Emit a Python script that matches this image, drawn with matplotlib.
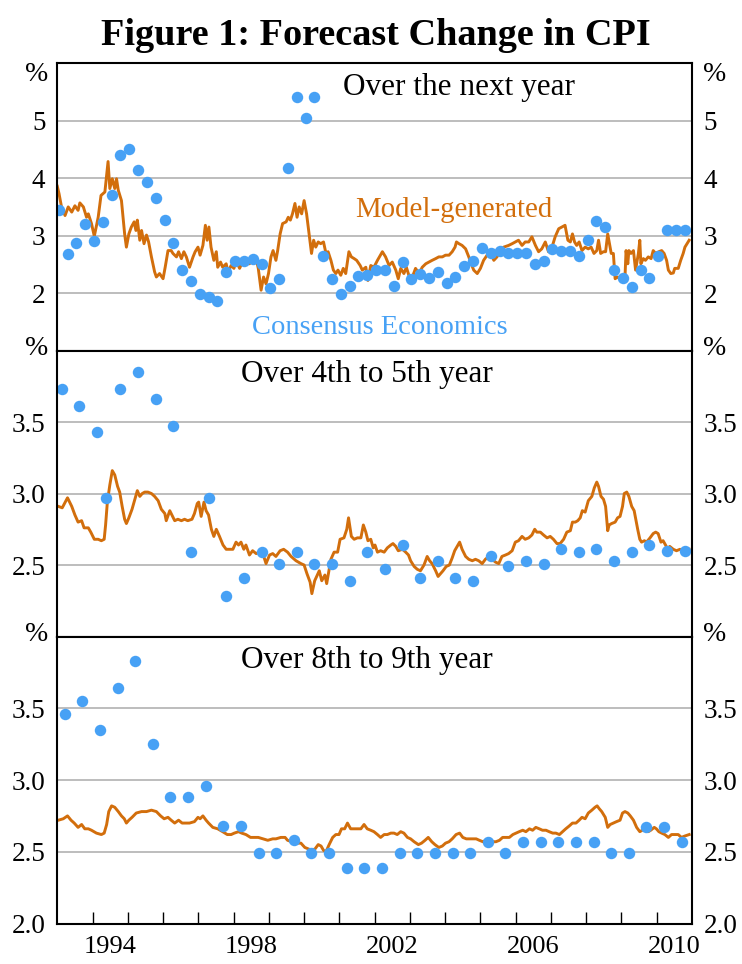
import matplotlib
matplotlib.use('Agg')
import matplotlib.pyplot as plt
import numpy as np

plt.rcParams['font.family'] = 'Liberation Serif'

ORANGE = '#D26E0C'
BLUE = '#47A1F5'
GRID = '#B8B8B8'

# ---- Consensus Economics survey (dots) ----
cons_next_dates = [f'{y}-{m:02d}' for y in range(1993, 2011) for m in (1, 4, 7, 10)]
cons_next = [3.45, 2.68, 2.87, 3.20, 2.90, 3.23, 3.70, 4.40, 4.50, 4.15,
             3.94, 3.66, 3.28, 2.87, 2.40, 2.21, 1.99, 1.94, 1.86, 2.36,
             2.55, 2.55, 2.59, 2.50, 2.08, 2.25, 4.18, 5.42, 5.05, 5.41,
             2.64, 2.25, 1.99, 2.12, 2.30, 2.31, 2.40, 2.41, 2.12, 2.54,
             2.25, 2.34, 2.26, 2.36, 2.17, 2.28, 2.48, 2.55, 2.79, 2.70,
             2.73, 2.70, 2.70, 2.70, 2.51, 2.55, 2.76, 2.73, 2.73, 2.64,
             2.92, 3.26, 3.15, 2.40, 2.27, 2.11, 2.41, 2.27, 2.64, 3.09,
             3.09, 3.09]

cons_45_dates = ['1993-02', '1993-08', '1994-02', '1994-05', '1994-10'] + \
    [f'{y}-{m:02d}' for y in range(1995, 2011) for m in (4, 10)]
cons_45 = [3.73, 3.61, 3.43, 2.97, 3.73, 3.85, 3.66, 3.47, 2.59, 2.97,
           2.28, 2.41, 2.59, 2.51, 2.59, 2.51, 2.51, 2.39, 2.59, 2.47,
           2.64, 2.41, 2.53, 2.41, 2.39, 2.56, 2.49, 2.53, 2.51, 2.61,
           2.59, 2.61, 2.53, 2.59, 2.64, 2.60, 2.60]

cons_89_dates = [f'{y}-{m:02d}' for y in range(1993, 2011) for m in (3, 9)]
cons_89 = [3.46, 3.55, 3.35, 3.64, 3.83, 3.25, 2.88, 2.88, 2.96, 2.68,
           2.68, 2.49, 2.49, 2.58, 2.49, 2.49, 2.39, 2.39, 2.39, 2.49,
           2.49, 2.49, 2.49, 2.49, 2.57, 2.49, 2.57, 2.57, 2.57, 2.57,
           2.57, 2.49, 2.49, 2.67, 2.67, 2.57]

# ---- Model-generated (line) ----
model_next_t = [1993.00, 1993.05, 1993.12, 1993.22, 1993.31, 1993.41, 1993.50, 1993.59, 1993.64, 1993.74,
                1993.83, 1993.88, 1993.97, 1994.05, 1994.16, 1994.24, 1994.35, 1994.40, 1994.44, 1994.49,
                1994.56, 1994.63, 1994.68, 1994.73, 1994.82, 1994.91, 1994.96, 1995.03, 1995.10, 1995.18,
                1995.23, 1995.27, 1995.34, 1995.39, 1995.46, 1995.53, 1995.59, 1995.67, 1995.76, 1995.81,
                1995.90, 1996.00, 1996.06, 1996.14, 1996.23, 1996.28, 1996.38, 1996.44, 1996.52, 1996.59,
                1996.66, 1996.75, 1996.85, 1996.91, 1996.99, 1997.05, 1997.13, 1997.20, 1997.25, 1997.30,
                1997.36, 1997.44, 1997.51, 1997.55, 1997.63, 1997.69, 1997.79, 1997.84, 1997.93, 1998.01,
                1998.07, 1998.17, 1998.23, 1998.31, 1998.35, 1998.45, 1998.54, 1998.64, 1998.70, 1998.78,
                1998.85, 1998.92, 1998.99, 1999.06, 1999.12, 1999.20, 1999.25, 1999.32, 1999.39, 1999.49,
                1999.55, 1999.61, 1999.67, 1999.74, 1999.80, 1999.86, 1999.93, 2000.00, 2000.07, 2000.14,
                2000.21, 2000.27, 2000.33, 2000.40, 2000.47, 2000.55, 2000.62, 2000.68, 2000.76, 2000.83,
                2000.90, 2000.96, 2001.04, 2001.11, 2001.18, 2001.27, 2001.34, 2001.42, 2001.49, 2001.59,
                2001.65, 2001.75, 2001.81, 2001.89, 2001.98, 2002.08, 2002.22, 2002.31, 2002.41, 2002.50,
                2002.60, 2002.67, 2002.74, 2002.83, 2002.90, 2002.97, 2003.07, 2003.16, 2003.26, 2003.35,
                2003.45, 2003.54, 2003.63, 2003.73, 2003.82, 2003.92, 2004.01, 2004.11, 2004.20, 2004.28,
                2004.32, 2004.39, 2004.48, 2004.58, 2004.67, 2004.72, 2004.81, 2004.91, 2005.00, 2005.09,
                2005.19, 2005.28, 2005.38, 2005.47, 2005.57, 2005.66, 2005.80, 2005.90, 2005.99, 2006.08,
                2006.18, 2006.27, 2006.37, 2006.46, 2006.56, 2006.65, 2006.74, 2006.84, 2006.93, 2007.03,
                2007.12, 2007.22, 2007.31, 2007.40, 2007.48, 2007.55, 2007.61, 2007.67, 2007.73, 2007.80,
                2007.88, 2007.97, 2008.06, 2008.14, 2008.22, 2008.30, 2008.35, 2008.41, 2008.49, 2008.55,
                2008.61, 2008.65, 2008.71, 2008.77, 2008.82, 2008.89, 2008.96, 2009.03, 2009.10, 2009.13,
                2009.18, 2009.21, 2009.27, 2009.34, 2009.40, 2009.48, 2009.52, 2009.55, 2009.62, 2009.68,
                2009.76, 2009.84, 2009.90, 2009.97, 2010.06, 2010.14, 2010.21, 2010.28, 2010.33, 2010.40,
                2010.47, 2010.51, 2010.61, 2010.68, 2010.75, 2010.80, 2010.92]
model_next = [3.86, 3.73, 3.50, 3.35, 3.50, 3.41, 3.52, 3.44, 3.57, 3.50,
              3.32, 3.38, 3.21, 2.99, 3.32, 3.70, 3.76, 4.05, 4.29, 3.82,
              3.99, 3.82, 3.99, 3.79, 3.61, 3.03, 2.80, 3.03, 3.15, 3.24,
              3.09, 3.27, 2.92, 3.09, 2.86, 3.01, 2.89, 2.63, 2.37, 2.28,
              2.34, 2.25, 2.45, 2.74, 2.74, 2.69, 2.63, 2.72, 2.60, 2.72,
              2.63, 2.45, 2.63, 2.72, 2.80, 2.66, 2.83, 3.18, 2.92, 3.15,
              2.80, 2.57, 2.72, 2.45, 2.54, 2.45, 2.51, 2.37, 2.48, 2.43,
              2.57, 2.43, 2.51, 2.48, 2.60, 2.51, 2.57, 2.60, 2.43, 2.05,
              2.28, 2.16, 2.34, 2.63, 2.74, 2.57, 2.74, 3.03, 3.21, 3.24,
              3.32, 3.27, 3.38, 3.56, 3.32, 3.50, 3.38, 3.61, 3.38, 3.03,
              2.69, 2.92, 2.80, 2.89, 2.86, 2.89, 2.69, 2.72, 2.57, 2.40,
              2.34, 2.40, 2.31, 2.43, 2.34, 2.72, 2.63, 2.60, 2.57, 2.48,
              2.40, 2.45, 2.22, 2.48, 2.45, 2.57, 2.72, 2.63, 2.48, 2.54,
              2.40, 2.25, 2.43, 2.34, 2.45, 2.31, 2.28, 2.43, 2.34, 2.45,
              2.51, 2.54, 2.57, 2.60, 2.63, 2.63, 2.66, 2.66, 2.72, 2.80,
              2.89, 2.86, 2.83, 2.77, 2.63, 2.54, 2.40, 2.34, 2.43, 2.57,
              2.66, 2.72, 2.57, 2.63, 2.74, 2.80, 2.83, 2.86, 2.89, 2.92,
              2.83, 2.89, 2.89, 2.98, 2.83, 2.72, 2.77, 2.89, 2.72, 2.80,
              2.98, 3.12, 3.15, 3.18, 2.92, 2.89, 3.03, 2.89, 2.83, 2.89,
              2.74, 2.80, 2.77, 2.80, 2.69, 2.74, 2.92, 2.69, 2.72, 2.72,
              3.03, 2.89, 2.69, 2.69, 2.25, 2.28, 2.25, 2.22, 2.28, 2.74,
              2.51, 2.74, 2.69, 2.74, 2.40, 2.69, 2.92, 2.51, 2.60, 2.57,
              2.63, 2.60, 2.74, 2.69, 2.72, 2.74, 2.69, 2.57, 2.40, 2.34,
              2.35, 2.43, 2.43, 2.57, 2.69, 2.80, 2.92]

model_45_t = [1993.03, 1993.14, 1993.29, 1993.41, 1993.50, 1993.59, 1993.69, 1993.76, 1993.88, 1993.95,
              1994.05, 1994.16, 1994.25, 1994.33, 1994.37, 1994.42, 1994.49, 1994.56, 1994.63, 1994.71,
              1994.77, 1994.84, 1994.91, 1994.96, 1995.03, 1995.12, 1995.20, 1995.27, 1995.34, 1995.41,
              1995.48, 1995.57, 1995.67, 1995.76, 1995.86, 1995.95, 1996.05, 1996.09, 1996.19, 1996.25,
              1996.33, 1996.42, 1996.52, 1996.61, 1996.70, 1996.82, 1996.89, 1996.97, 1997.01, 1997.08,
              1997.16, 1997.22, 1997.29, 1997.37, 1997.44, 1997.51, 1997.60, 1997.70, 1997.79, 1997.88,
              1997.98, 1998.07, 1998.14, 1998.21, 1998.29, 1998.35, 1998.45, 1998.54, 1998.64, 1998.73,
              1998.83, 1998.92, 1999.02, 1999.11, 1999.20, 1999.32, 1999.42, 1999.53, 1999.63, 1999.77,
              1999.91, 2000.00, 2000.08, 2000.17, 2000.22, 2000.30, 2000.43, 2000.50, 2000.59, 2000.64,
              2000.71, 2000.76, 2000.85, 2000.95, 2001.02, 2001.13, 2001.21, 2001.26, 2001.34, 2001.42,
              2001.51, 2001.61, 2001.68, 2001.75, 2001.81, 2001.89, 2001.96, 2002.01, 2002.08, 2002.17,
              2002.27, 2002.36, 2002.46, 2002.52, 2002.60, 2002.67, 2002.79, 2002.88, 2002.96, 2003.02,
              2003.12, 2003.21, 2003.30, 2003.40, 2003.49, 2003.56, 2003.63, 2003.73, 2003.80, 2003.87,
              2003.94, 2004.03, 2004.12, 2004.20, 2004.27, 2004.34, 2004.41, 2004.48, 2004.58, 2004.67,
              2004.77, 2004.86, 2004.95, 2005.05, 2005.14, 2005.24, 2005.33, 2005.43, 2005.52, 2005.61,
              2005.71, 2005.80, 2005.90, 2005.99, 2006.08, 2006.18, 2006.27, 2006.37, 2006.46, 2006.54,
              2006.60, 2006.70, 2006.79, 2006.89, 2006.98, 2007.07, 2007.17, 2007.26, 2007.36, 2007.45,
              2007.55, 2007.61, 2007.69, 2007.76, 2007.83, 2007.89, 2007.97, 2008.06, 2008.16, 2008.23,
              2008.30, 2008.35, 2008.42, 2008.49, 2008.55, 2008.61, 2008.65, 2008.72, 2008.82, 2008.89,
              2008.96, 2009.03, 2009.08, 2009.15, 2009.21, 2009.29, 2009.36, 2009.46, 2009.52, 2009.57,
              2009.65, 2009.71, 2009.81, 2009.90, 2009.97, 2010.04, 2010.12, 2010.18, 2010.25, 2010.31,
              2010.37, 2010.47, 2010.56, 2010.66, 2010.75, 2010.92]
model_45 = [2.91, 2.90, 2.97, 2.91, 2.85, 2.80, 2.81, 2.76, 2.76, 2.73,
            2.68, 2.68, 2.67, 2.68, 2.78, 2.94, 3.06, 3.16, 3.13, 3.05,
            3.01, 2.91, 2.82, 2.79, 2.83, 2.89, 2.96, 3.02, 2.98, 3.00,
            3.01, 3.01, 3.00, 2.98, 2.95, 2.89, 2.86, 2.81, 2.88, 2.85,
            2.81, 2.82, 2.81, 2.82, 2.81, 2.82, 2.86, 2.93, 2.94, 2.84,
            2.94, 2.88, 2.85, 2.75, 2.70, 2.75, 2.70, 2.64, 2.61, 2.61,
            2.61, 2.66, 2.64, 2.66, 2.61, 2.64, 2.57, 2.60, 2.58, 2.59,
            2.58, 2.51, 2.57, 2.58, 2.56, 2.60, 2.61, 2.59, 2.56, 2.53,
            2.51, 2.50, 2.44, 2.38, 2.30, 2.39, 2.46, 2.39, 2.43, 2.37,
            2.47, 2.54, 2.59, 2.59, 2.68, 2.69, 2.75, 2.83, 2.70, 2.68,
            2.69, 2.69, 2.78, 2.73, 2.67, 2.68, 2.62, 2.64, 2.59, 2.60,
            2.59, 2.62, 2.64, 2.65, 2.63, 2.60, 2.61, 2.59, 2.57, 2.53,
            2.49, 2.47, 2.46, 2.50, 2.56, 2.53, 2.51, 2.46, 2.42, 2.44,
            2.46, 2.49, 2.50, 2.55, 2.60, 2.63, 2.66, 2.61, 2.56, 2.54,
            2.53, 2.54, 2.53, 2.51, 2.54, 2.56, 2.54, 2.52, 2.51, 2.56,
            2.57, 2.58, 2.60, 2.66, 2.67, 2.70, 2.68, 2.69, 2.71, 2.75,
            2.73, 2.73, 2.71, 2.69, 2.70, 2.68, 2.65, 2.65, 2.68, 2.73,
            2.74, 2.80, 2.80, 2.81, 2.83, 2.88, 2.87, 2.95, 2.98, 3.04,
            3.08, 3.05, 2.98, 2.96, 2.91, 2.74, 2.78, 2.79, 2.80, 2.83,
            2.84, 2.91, 3.00, 3.01, 2.98, 2.91, 2.88, 2.75, 2.68, 2.66,
            2.67, 2.66, 2.69, 2.72, 2.73, 2.72, 2.66, 2.67, 2.64, 2.61,
            2.63, 2.61, 2.60, 2.61, 2.60, 2.61]

model_89_t = [1993.03, 1993.17, 1993.29, 1993.39, 1993.48, 1993.59, 1993.69, 1993.78, 1993.88, 1993.97,
              1994.11, 1994.25, 1994.33, 1994.40, 1994.46, 1994.54, 1994.63, 1994.73, 1994.82, 1994.90,
              1994.96, 1995.03, 1995.12, 1995.24, 1995.39, 1995.53, 1995.67, 1995.81, 1995.93, 1996.03,
              1996.14, 1996.23, 1996.33, 1996.44, 1996.54, 1996.63, 1996.75, 1996.89, 1996.99, 1997.05,
              1997.13, 1997.22, 1997.29, 1997.41, 1997.55, 1997.69, 1997.82, 1997.93, 1998.02, 1998.14,
              1998.23, 1998.35, 1998.48, 1998.59, 1998.70, 1998.83, 1998.97, 1999.11, 1999.20, 1999.34,
              1999.46, 1999.53, 1999.65, 1999.77, 1999.91, 2000.02, 2000.12, 2000.21, 2000.31, 2000.40,
              2000.48, 2000.55, 2000.62, 2000.71, 2000.81, 2000.90, 2000.99, 2001.06, 2001.15, 2001.23,
              2001.32, 2001.42, 2001.51, 2001.61, 2001.70, 2001.79, 2001.89, 2001.98, 2002.08, 2002.17,
              2002.27, 2002.36, 2002.46, 2002.55, 2002.64, 2002.74, 2002.83, 2002.93, 2003.02, 2003.12,
              2003.24, 2003.33, 2003.43, 2003.52, 2003.62, 2003.71, 2003.82, 2003.92, 2004.01, 2004.11,
              2004.20, 2004.31, 2004.41, 2004.50, 2004.60, 2004.69, 2004.78, 2004.88, 2004.97, 2005.07,
              2005.16, 2005.26, 2005.35, 2005.44, 2005.54, 2005.63, 2005.73, 2005.82, 2005.92, 2006.01,
              2006.10, 2006.20, 2006.29, 2006.39, 2006.48, 2006.57, 2006.67, 2006.76, 2006.86, 2006.95,
              2007.05, 2007.14, 2007.24, 2007.33, 2007.42, 2007.52, 2007.61, 2007.71, 2007.80, 2007.88,
              2007.97, 2008.06, 2008.16, 2008.25, 2008.31, 2008.37, 2008.44, 2008.54, 2008.61, 2008.68,
              2008.77, 2008.86, 2008.96, 2009.03, 2009.10, 2009.18, 2009.25, 2009.34, 2009.43, 2009.52,
              2009.59, 2009.67, 2009.76, 2009.83, 2009.93, 2009.99, 2010.06, 2010.14, 2010.23, 2010.33,
              2010.42, 2010.51, 2010.61, 2010.70, 2010.80, 2010.92]
model_89 = [2.72, 2.73, 2.75, 2.72, 2.70, 2.67, 2.69, 2.66, 2.66, 2.65,
            2.63, 2.62, 2.63, 2.69, 2.78, 2.82, 2.81, 2.78, 2.75, 2.73,
            2.70, 2.72, 2.74, 2.77, 2.78, 2.78, 2.79, 2.78, 2.75, 2.73,
            2.74, 2.72, 2.70, 2.72, 2.70, 2.70, 2.70, 2.71, 2.74, 2.73,
            2.75, 2.72, 2.70, 2.67, 2.66, 2.64, 2.62, 2.62, 2.63, 2.64,
            2.63, 2.62, 2.60, 2.60, 2.60, 2.59, 2.58, 2.59, 2.59, 2.60,
            2.60, 2.58, 2.57, 2.56, 2.56, 2.53, 2.52, 2.51, 2.52, 2.55,
            2.54, 2.51, 2.50, 2.55, 2.60, 2.62, 2.62, 2.66, 2.66, 2.70,
            2.66, 2.66, 2.66, 2.66, 2.69, 2.66, 2.65, 2.64, 2.62, 2.60,
            2.62, 2.62, 2.63, 2.63, 2.62, 2.64, 2.63, 2.60, 2.59, 2.57,
            2.55, 2.56, 2.58, 2.60, 2.57, 2.55, 2.53, 2.54, 2.56, 2.57,
            2.59, 2.62, 2.63, 2.60, 2.59, 2.59, 2.59, 2.59, 2.58, 2.57,
            2.58, 2.59, 2.57, 2.57, 2.58, 2.60, 2.60, 2.60, 2.62, 2.63,
            2.64, 2.65, 2.64, 2.66, 2.65, 2.67, 2.66, 2.65, 2.65, 2.64,
            2.63, 2.63, 2.62, 2.64, 2.66, 2.68, 2.70, 2.70, 2.72, 2.74,
            2.73, 2.77, 2.79, 2.81, 2.82, 2.80, 2.78, 2.74, 2.67, 2.69,
            2.70, 2.71, 2.72, 2.77, 2.78, 2.77, 2.75, 2.72, 2.67, 2.64,
            2.65, 2.66, 2.64, 2.65, 2.67, 2.66, 2.64, 2.63, 2.62, 2.60,
            2.62, 2.62, 2.62, 2.60, 2.61, 2.62]

year_labels = ['1994', '1998', '2002', '2006', '2010']


def dec_year(months):
    return [int(s[:4]) + (int(s[5:]) - 0.5) / 12 for s in months]


fig = plt.figure(figsize=(7.42, 9.64), dpi=100)
fig.text(0.507, 0.953, 'Figure 1: Forecast Change in CPI', ha='center', va='baseline',
         fontsize=27.5, fontweight='bold')

panels = [
    dict(rect=[0.0772, 0.6364, 0.8554, 0.2979], ylim=(1, 6), yticks=[2, 3, 4, 5], fmt='%d',
         t=model_next_t, v=model_next, cd=cons_next_dates, cv=cons_next,
         title='Over the next year', tx=2004.39, ty=5.44, pct_y=0.962),
    dict(rect=[0.0772, 0.3397, 0.8554, 0.2967], ylim=(2, 4), yticks=[2.5, 3.0, 3.5], fmt='%.1f',
         t=model_45_t, v=model_45, cd=cons_45_dates, cv=cons_45,
         title='Over 4th to 5th year', tx=2001.79, ty=3.78, pct_y=1.006),
    dict(rect=[0.0772, 0.0420, 0.8554, 0.2977], ylim=(2, 4), yticks=[2.0, 2.5, 3.0, 3.5], fmt='%.1f',
         t=model_89_t, v=model_89, cd=cons_89_dates, cv=cons_89,
         title='Over 8th to 9th year', tx=2001.79, ty=3.78, pct_y=1.006),
]

axes = []
for p in panels:
    ax = fig.add_axes(p['rect'])
    ax.plot(p['t'], p['v'], color=ORANGE, lw=2.1, zorder=3)
    ax.scatter(dec_year(p['cd']), p['cv'], s=68, color=BLUE, zorder=4, linewidths=0)
    ax.set_xlim(1993.0, 2011.0)
    ax.set_ylim(*p['ylim'])
    ax.set_yticks(p['yticks'])
    ax.set_yticklabels([p['fmt'] % y for y in p['yticks']])
    for y in p['yticks']:
        ax.axhline(y, color=GRID, lw=1.3, zorder=1)
    ax.tick_params(axis='y', length=0, pad=8.5, labelsize=19.5, labelright=True)
    for s in ax.spines.values():
        s.set_linewidth(1.5)
        s.set_color('black')
        s.set_zorder(5)
    ax.text(p['tx'], p['ty'], p['title'], ha='center', va='baseline', fontsize=22.5)
    ax.text(-0.032, p['pct_y'], '%', transform=ax.transAxes, ha='center', va='center', fontsize=20)
    ax.text(1.035, p['pct_y'], '%', transform=ax.transAxes, ha='center', va='center', fontsize=20)
    axes.append(ax)

ax_top, ax_mid, ax_bot = axes
ax_top.text(2004.25, 3.32, 'Model-generated', color=ORANGE, ha='center', va='baseline', fontsize=20.8)
ax_top.text(2002.15, 1.28, 'Consensus Economics', color=BLUE, ha='center', va='baseline', fontsize=20.5)

for ax in (ax_top, ax_mid):
    ax.set_xticks([])

ax_bot.set_xticks(np.arange(1994, 2011), minor=True)
ax_bot.set_xticks([int(y) + 0.5 for y in year_labels])
ax_bot.set_xticklabels(year_labels)
ax_bot.tick_params(axis='x', which='major', length=0, pad=9, labelsize=19)
ax_bot.tick_params(axis='x', which='minor', direction='in', length=8.6, width=1.0, color='black')

fig.savefig('out.png', dpi=100)
